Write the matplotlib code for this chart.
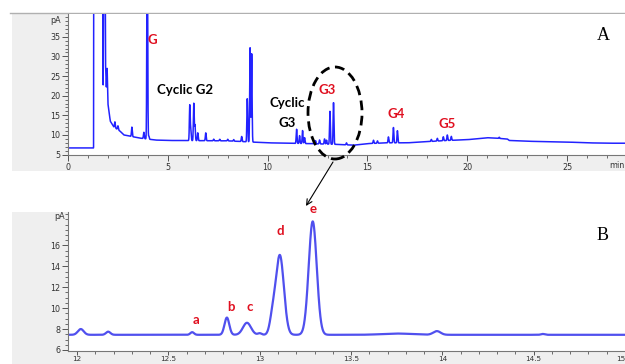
import numpy as np
import matplotlib
matplotlib.use("Agg")
import matplotlib.pyplot as plt
from matplotlib.patches import Ellipse, Rectangle
from matplotlib.ticker import MultipleLocator

# ---------------- data ----------------
# Panel A: baseline knots (min, pA)
a_base_t = [0, 1.28, 1.29, 1.72, 1.76, 1.80, 1.86, 1.88, 1.92, 1.96, 2.00, 2.05, 2.12,
            2.30, 2.60, 2.80, 3.60, 4.40, 5.0, 8.0, 10.0, 12.0, 13.5, 14.3, 15.0, 16.0, 17.0,
            18.0, 19.0, 20.0, 21.0, 22.0, 22.1, 23.0, 25.0, 26.0, 27.0, 27.9]
a_base_v = [6.7, 6.7, 60, 60, 21.4, 60, 60, 28, 22, 27, 18, 16, 13.5,
            12.0, 11.0, 10.0, 9.2, 8.7, 8.6, 8.5, 8.0, 7.8, 7.6, 7.4, 7.8, 8.0, 8.0,
            8.3, 8.6, 8.8, 9.3, 9.0, 8.6, 8.4, 8.2, 8.0, 7.9, 7.9]
# Panel A peaks: retention time, height above baseline, width (sigma)
a_peak_t = [2.35, 2.5, 3.2, 3.8, 3.97, 4.05, 6.1, 6.15, 6.3, 6.36, 6.5, 6.9,
            7.3, 7.6, 8.0, 8.3, 8.7, 8.98, 9.12, 9.2, 11.45, 11.6, 11.75, 11.85,
            12.4, 12.6, 12.85, 12.95, 13.12, 13.3, 13.95, 15.3, 15.5,
            16.05, 16.3, 16.5, 18.2, 18.5, 18.8, 19.0, 19.2, 21.6]
a_peak_h = [1.5, 1.0, 2.4, 1.6, 60, 0.8, 9.0, 3.0, 9.5, 4.0, 2.0, 2.0,
            0.4, 0.4, 0.4, 0.4, 1.3, 11.0, 24.0, 22.5, 3.6, 2.0, 3.3, 1.5,
            0.8, 1.0, 1.3, 1.0, 8.4, 10.6, 0.5, 0.8, 0.6,
            1.5, 3.9, 3.1, 0.5, 0.7, 1.0, 1.4, 1.0, 0.3]
a_peak_w = [0.02] * len(a_peak_t)

# Panel B: zoom of 12-15 min
b_baseline = 7.45
b_peak_t = [12.02, 12.17, 12.63, 12.82, 12.93, 13.00, 13.07, 13.11, 13.29, 13.75, 13.97, 14.55]
b_peak_h = [0.55, 0.30, 0.25, 1.65, 1.15, 0.15, 1.5, 7.6, 10.85, 0.12, 0.35, 0.08]
b_peak_w = [0.016, 0.012, 0.010, 0.013, 0.022, 0.010, 0.015, 0.022, 0.022, 0.08, 0.02, 0.01]

a_xticks = [0, 5, 10, 15, 20, 25]
a_yticks = [5, 10, 15, 20, 25, 30, 35]
b_xticks = [12, 12.5, 13, 13.5, 14, 14.5, 15]
b_xticklabels = ["12", "12.5", "13", "13.5", "14", "14.5", "15"]
b_yticks = [6, 8, 10, 12, 14, 16]

group_labels = ["G", "Cyclic G2", "Cyclic", "G3", "G3", "G4", "G5"]
group_colors = ["#e01020", "black", "black", "black", "#e01020", "#e01020", "#e01020"]
peak_labels = ["a", "b", "c", "d", "e"]

# ---------------- signals ----------------
ta = np.linspace(0, 27.9, 8000)
sa = np.interp(ta, a_base_t, a_base_v)
for t0, h, w in zip(a_peak_t, a_peak_h, a_peak_w):
    sa = sa + h * np.exp(-0.5 * ((ta - t0) / w) ** 2)

tb = np.linspace(11.95, 15.0, 4000)
sb = np.full_like(tb, b_baseline)
for t0, h, w in zip(b_peak_t, b_peak_h, b_peak_w):
    sb = sb + h * np.exp(-0.5 * ((tb - t0) / w) ** 2)

# ---------------- figure ----------------
W, H = 625, 364
fig = plt.figure(figsize=(W / 100, H / 100), dpi=100)
fig.patch.set_facecolor("white")

def fx(x):
    return x / W

def fy(y):
    return 1 - y / H

# gray panel backgrounds
fig.patches.append(Rectangle((fx(12), fy(171)), fx(613), (171 - 13) / H,
                             transform=fig.transFigure, facecolor="#efefef",
                             edgecolor="none", zorder=-5))
fig.patches.append(Rectangle((fx(12), 0), fx(613), (364 - 212) / H,
                             transform=fig.transFigure, facecolor="#efefef",
                             edgecolor="none", zorder=-5))
fig.lines.append(plt.Line2D([fx(10), 1], [fy(13), fy(13)], transform=fig.transFigure,
                            color="#b0b0b0", lw=1.0, zorder=-4))

tick_col = "#555555"
lab_col = "#333333"

def style(ax):
    for s in ["top", "right"]:
        ax.spines[s].set_visible(False)
    for s in ["left", "bottom"]:
        ax.spines[s].set_color("#777777")
        ax.spines[s].set_linewidth(0.8)
    ax.tick_params(which="major", direction="out", length=4, width=0.7,
                   color=tick_col, labelsize=5.8, labelcolor=lab_col, pad=1.5)
    ax.tick_params(which="minor", direction="out", length=2.5, width=0.6, color=tick_col)

# Panel A
axA = fig.add_axes([fx(68), fy(155), fx(625 - 68), (155 - 14) / H])
axA.plot(ta, sa, color="#2222ff", lw=1.1)
axA.set_xlim(0, 27.9)
axA.set_ylim(4.9, 40.8)
axA.set_xticks(a_xticks)
axA.set_yticks(a_yticks)
axA.xaxis.set_minor_locator(MultipleLocator(1))
axA.yaxis.set_minor_locator(MultipleLocator(1))
style(axA)
axA.text(-0.35, 39.2, "pA", ha="right", va="center", fontsize=5.8, color=lab_col)
fig.text(fx(624), fy(166), "min", ha="right", va="center", fontsize=5.8, color=lab_col)

# Panel B
axB = fig.add_axes([fx(68), fy(351), fx(625 - 68), (351 - 212) / H])
axB.plot(tb, sb, color="#5050ee", lw=1.6)
axB.set_xlim(11.95, 15.0)
axB.set_ylim(5.9, 19.2)
axB.set_xticks(b_xticks)
axB.set_xticklabels(b_xticklabels)
axB.set_yticks(b_yticks)
axB.xaxis.set_minor_locator(MultipleLocator(0.1))
axB.yaxis.set_minor_locator(MultipleLocator(0.5))
style(axB)
axB.tick_params(axis="x", which="major", length=3, pad=0.3, labelsize=5.2)
axB.tick_params(axis="x", which="minor", length=2)
axB.get_xticklabels()[-1].set_horizontalalignment("right")
axB.text(11.935, 18.8, "pA", ha="right", va="center", fontsize=5.8, color=lab_col)

# annotations panel A
lab_font = dict(family="Lato", weight="bold", fontsize=9.5)
group_pos = [(152, 40), (185, 90), (287, 103), (287, 123), (327, 90), (396, 114), (447, 124)]
for txt, col, (x, y) in zip(group_labels, group_colors, group_pos):
    fig.text(fx(x), fy(y), txt, ha="center", va="center", color=col, **lab_font)

peak_pos = [(196, 320), (231, 307), (250, 307), (280, 231), (313, 209)]
for txt, (x, y) in zip(peak_labels, peak_pos):
    fig.text(fx(x), fy(y), txt, ha="center", va="center", color="#e01020", **lab_font)

fig.text(fx(603), fy(35), "A", ha="center", va="center", family="Liberation Serif", fontsize=13)
fig.text(fx(603), fy(235), "B", ha="center", va="center", family="Liberation Serif", fontsize=13)

# dashed ellipse + arrow
ell = Ellipse((fx(335), fy(113)), fx(54), 92 / H, transform=fig.transFigure,
              fill=False, edgecolor="black", lw=2.0, linestyle=(0, (3.5, 2)), zorder=10)
fig.patches.append(ell)
axA.annotate("", xy=(fx(306), fy(206)), xytext=(fx(333), fy(162)),
             xycoords="figure fraction", textcoords="figure fraction",
             arrowprops=dict(arrowstyle="->", color="black", lw=0.8, shrinkA=0, shrinkB=0),
             annotation_clip=False)

fig.savefig("out.png", dpi=100)
